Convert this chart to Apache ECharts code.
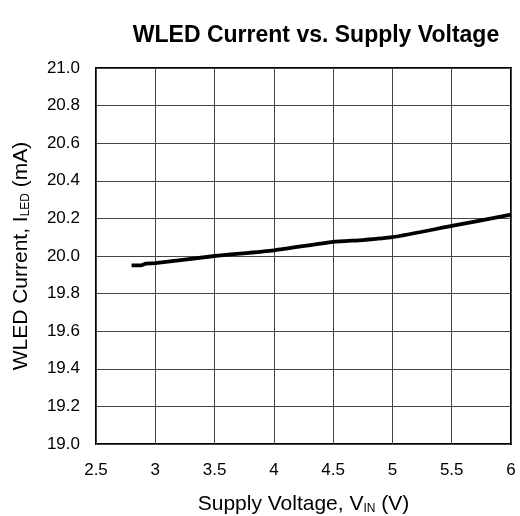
<!DOCTYPE html>
<html>
<head>
<meta charset="utf-8">
<script src="https://cdn.jsdelivr.net/npm/echarts@6/dist/echarts.min.js"></script>
<style>
  html, body { margin: 0; padding: 0; background: #fff; }
  #chart { width: 520px; height: 516px; }
</style>
</head>
<body>
<div id="chart"></div>
<script>
// supply voltage (V) and WLED current (mA)
var vin = [2.8, 2.88, 2.92, 3.0, 3.5, 4.0, 4.5, 4.75, 5.0, 5.5, 6.0];
var iled = [19.95, 19.95, 19.96, 19.962, 20.0, 20.03, 20.075, 20.085, 20.1, 20.16, 20.22];

var points = vin.map(function (v, i) { return [v, iled[i]]; });

var font = 'Liberation Sans, Arial, sans-serif';
var subStyle = { fontFamily: font, fontSize: 12, color: '#000', verticalAlign: 'bottom', padding: [10, 0, 0, 0] };
var chart = echarts.init(document.getElementById('chart'));

chart.setOption({
  animation: false,
  title: {
    text: 'WLED Current vs. Supply Voltage',
    left: 311,
    top: 19,
    textAlign: 'center',
    textStyle: { fontFamily: font, fontSize: 23, fontWeight: 'bold', color: '#000' }
  },
  grid: { left: 96, right: 9, top: 68, bottom: 72, outerBoundsMode: 'none' },
  xAxis: {
    type: 'value',
    min: 2.5,
    max: 6,
    interval: 0.5,
    name: 'Supply Voltage, V{sub|IN} (V)',
    nameLocation: 'middle',
    nameGap: 49,
    nameTextStyle: { fontFamily: font, fontSize: 21, color: '#000', rich: { sub: subStyle } },
    axisLine: { show: false },
    axisTick: { show: false },
    axisLabel: { fontFamily: font, fontSize: 17, color: '#000', margin: 18 },
    splitLine: { lineStyle: { color: '#444', width: 1 } }
  },
  yAxis: {
    type: 'value',
    min: 19.0,
    max: 21.0,
    interval: 0.2,
    name: 'WLED Current, I{sub|LED} (mA)',
    nameLocation: 'middle',
    nameGap: 64,
    nameTextStyle: { fontFamily: font, fontSize: 21, color: '#000', rich: { sub: subStyle } },
    axisLine: { show: false },
    axisTick: { show: false },
    axisLabel: {
      fontFamily: font, fontSize: 17, color: '#000', margin: 16,
      formatter: function (v) { return v.toFixed(1); }
    },
    splitLine: { lineStyle: { color: '#444', width: 1 } }
  },
  series: [{
    type: 'line',
    data: points,
    showSymbol: false,
    smooth: 0.2,
    lineStyle: { color: '#000', width: 3.8 }
  }],
  graphic: [{
    type: 'rect',
    shape: { x: 96, y: 68, width: 415, height: 376 },
    style: { fill: 'none', stroke: '#000', lineWidth: 2 },
    silent: true
  }]
});
</script>
</body>
</html>
